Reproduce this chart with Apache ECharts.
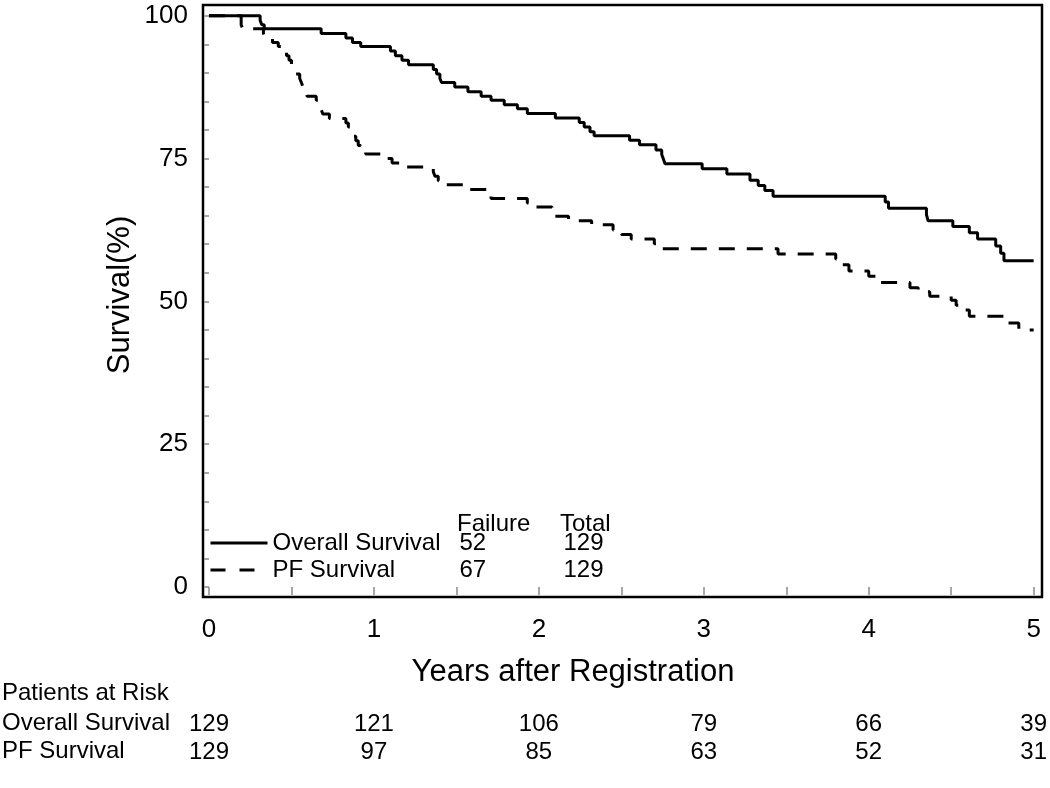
<!DOCTYPE html>
<html>
<head>
<meta charset="utf-8">
<script src="https://cdn.jsdelivr.net/npm/echarts@6/dist/echarts.min.js"></script>
<style>
html,body{margin:0;padding:0;background:#fff;}
#c{width:1050px;height:788px;}
</style>
</head>
<body>
<div id="c"></div>
<script>
const FONT = "'Liberation Sans', Arial, sans-serif";

// ---- data ----
const seriesNames = ['Overall Survival', 'PF Survival'];
const failures = [52, 67];
const totals = [129, 129];
const legendHeader = ['Failure', 'Total'];

const xTitle = 'Years after Registration';
const yTitle = 'Survival(%)';

const riskTitle = 'Patients at Risk';
const riskYears = [0, 1, 2, 3, 4, 5];
const osRisk = [129, 121, 106, 79, 66, 39];
const pfRisk = [129, 97, 85, 63, 52, 31];

const osTimes = [0, 0.31, 0.32, 0.335, 0.68, 0.83, 0.87, 0.92, 1.10, 1.13, 1.17, 1.21, 1.36, 1.38, 1.40, 1.41,
  1.49, 1.57, 1.65, 1.71, 1.79, 1.87, 1.93, 2.10, 2.245, 2.275, 2.31, 2.335, 2.55, 2.61, 2.71, 2.745, 2.755,
  2.765, 2.99, 3.14, 3.28, 3.33, 3.37, 3.42, 4.10, 4.12, 4.35, 4.36, 4.51, 4.61, 4.66, 4.77, 4.80, 4.82, 5.0];
const osSurv = [100, 99.2, 98.4, 97.7, 96.9, 96.1, 95.3, 94.6, 93.8, 93.0, 92.2, 91.4, 90.6, 89.8, 89.0, 88.3,
  87.5, 86.7, 85.9, 85.2, 84.4, 83.7, 82.9, 82.1, 81.3, 80.5, 79.7, 79.0, 78.2, 77.4, 76.5, 75.7, 74.9,
  74.1, 73.2, 72.3, 71.2, 70.3, 69.4, 68.4, 67.4, 66.3, 65.2, 64.1, 63.1, 62.0, 60.9, 59.7, 58.4, 57.1, 57.1];

const pfTimes = [0, 0.195, 0.205, 0.33, 0.34, 0.385, 0.42, 0.455, 0.47, 0.485, 0.50, 0.51, 0.52, 0.55, 0.56,
  0.57, 0.585, 0.595, 0.65, 0.67, 0.68, 0.69, 0.73, 0.83, 0.845, 0.86, 0.87, 0.89, 0.905, 0.92, 0.95, 1.07,
  1.11, 1.20, 1.36, 1.37, 1.39, 1.42, 1.55, 1.69, 1.71, 1.93, 1.95, 2.08, 2.10, 2.18, 2.32, 2.45, 2.50, 2.56,
  2.70, 2.75, 3.45, 3.80, 3.84, 3.88, 4.00, 4.05, 4.25, 4.30, 4.37, 4.50, 4.53, 4.57, 4.61, 4.82, 4.91, 5.0];
const pfSurv = [100, 98.4, 97.7, 96.9, 96.1, 95.3, 94.6, 93.8, 93.0, 92.2, 91.4, 90.6, 89.8, 89.0, 88.3,
  87.5, 86.7, 85.9, 85.2, 84.4, 83.6, 82.8, 82.0, 81.2, 80.5, 79.7, 78.9, 78.1, 77.3, 76.5, 75.8, 75.0,
  74.2, 73.5, 72.7, 71.9, 71.1, 70.4, 69.6, 68.8, 68.0, 67.2, 66.5, 65.7, 64.9, 64.1, 63.4, 62.5, 61.7, 60.9,
  60.1, 59.2, 58.3, 57.4, 56.4, 55.3, 54.4, 53.3, 52.4, 51.7, 50.9, 50.2, 49.3, 48.5, 47.4, 46.2, 45.0, 45.0];

const zip = (a, b) => a.map((t, i) => [t, b[i]]);

const chart = echarts.init(document.getElementById('c'), null, {renderer: 'canvas'});

const lineTypes = ['solid', [16, 12]];
const legendDash = ['solid', [15, 14]];

const tickStyle = {color: '#8a8a8a', width: 1.5};
const txt = (text, x, y, size, extra) => ({
  type: 'text', x: x, y: y,
  style: Object.assign({text: text, fontSize: size, fontFamily: FONT, fill: '#000',
    align: 'left', textAlign: 'left', verticalAlign: 'middle', textVerticalAlign: 'middle'}, extra || {})
});

const riskAxis = (arr, offset) => ({
  gridIndex: 0, type: 'value', min: 0, max: 5, interval: 1, position: 'bottom', offset: offset,
  axisLine: {show: false}, axisTick: {show: false}, splitLine: {show: false},
  axisLabel: {
    show: true, margin: 0, fontSize: 24, fontFamily: FONT, color: '#000', lineHeight: 24,
    showMinLabel: true, showMaxLabel: true,
    formatter: v => { const i = riskYears.indexOf(Math.round(v)); return i >= 0 ? String(arr[i]) : ''; }
  }
});

const option = {
  animation: false,
  backgroundColor: '#fff',
  grid: [
    {left: 209, right: 11, top: 15.7, bottom: 201},
    {left: 203, right: 8, top: 5, bottom: 191, show: true, borderColor: '#000', borderWidth: 2.5,
      backgroundColor: 'rgba(0,0,0,0)'}
  ],
  xAxis: [
    {
      gridIndex: 0, type: 'value', min: 0, max: 5, interval: 0.5, position: 'bottom', offset: 10,
      axisLine: {show: false},
      axisTick: {show: true, inside: false, length: 8, lineStyle: tickStyle},
      splitLine: {show: false},
      axisLabel: {
        margin: 20, fontSize: 26, fontFamily: FONT, color: '#000', showMinLabel: true, showMaxLabel: true,
        formatter: v => (Math.abs(v - Math.round(v)) < 1e-6 ? String(Math.round(v)) : '')
      }
    },
    riskAxis(osRisk, 125),
    riskAxis(pfRisk, 153),
    {gridIndex: 1, type: 'value', min: 0, max: 1, show: false}
  ],
  yAxis: [
    {
      gridIndex: 0, type: 'value', min: 0, max: 100, interval: 5, position: 'left', offset: 6,
      axisLine: {show: false},
      axisTick: {show: true, inside: false, length: 5, lineStyle: tickStyle},
      splitLine: {show: false},
      axisLabel: {
        margin: 15, fontSize: 26, fontFamily: FONT, color: '#000',
        formatter: v => (Math.round(v) % 25 === 0 ? String(Math.round(v)) : '')
      }
    },
    {gridIndex: 1, type: 'value', min: 0, max: 1, show: false}
  ],
  legend: {
    show: true,
    data: seriesNames.map((n, i) => ({
      name: n,
      itemStyle: {opacity: 0},
      lineStyle: {color: '#000', width: 3, type: legendDash[i], opacity: 1}
    })),
    orient: 'vertical', left: 209, top: 531, padding: 0, itemGap: 3,
    itemWidth: 57, itemHeight: 14, selectedMode: false,
    itemStyle: {opacity: 0},
    formatter: name => {
      const i = seriesNames.indexOf(name);
      return '{n|' + name + '}{f|' + failures[i] + '}{t|' + totals[i] + '}';
    },
    textStyle: {
      fontFamily: FONT, fontSize: 24, color: '#000',
      rich: {
        n: {width: 187, fontSize: 24, fontFamily: FONT, lineHeight: 27, color: '#000'},
        f: {width: 104, fontSize: 24, fontFamily: FONT, lineHeight: 27, color: '#000'},
        t: {fontSize: 24, fontFamily: FONT, lineHeight: 27, color: '#000'}
      }
    }
  },
  series: seriesNames.map((n, i) => ({
    name: n, type: 'line', step: 'end', xAxisIndex: 0, yAxisIndex: 0,
    data: i === 0 ? zip(osTimes, osSurv) : zip(pfTimes, pfSurv),
    symbol: 'none', showSymbol: false, clip: false,
    lineStyle: {color: '#000', width: 3, type: lineTypes[i]}, itemStyle: {color: '#000'}
  })),
  graphic: [
    txt(legendHeader[0], 457, 524, 24),
    txt(legendHeader[1], 560, 524, 24),
    txt(xTitle, 573, 672, 31, {align: 'center', textAlign: 'center'}),
    Object.assign(txt(yTitle, 120, 295, 31, {align: 'center', textAlign: 'center'}), {rotation: Math.PI / 2}),
    txt(riskTitle, 2, 693, 24),
    txt(seriesNames[0], 2, 723, 24),
    txt(seriesNames[1], 2, 751, 24)
  ]
};

chart.setOption(option);
</script>
</body>
</html>
